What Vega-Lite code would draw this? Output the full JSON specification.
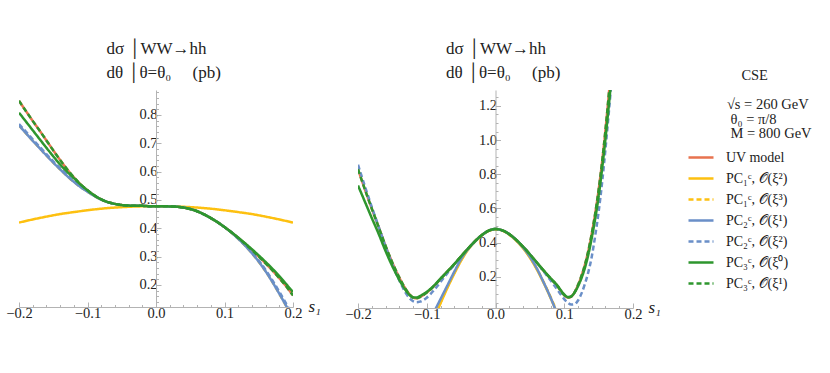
{
  "$schema": "https://vega.github.io/schema/vega-lite/v6.json",
  "background": "white",
  "padding": {"left": 5, "top": 39, "right": 5, "bottom": 5},
  "bounds": "flush",
  "spacing": 65,
  "config": {
    "view": {"stroke": null},
    "font": "Liberation Serif",
    "axis": {
      "labelFont": "Liberation Serif", "labelFontSize": 14.5, "labelColor": "#222222",
      "titleFont": "Liberation Serif", "titleFontWeight": "normal", "titleColor": "#222222",
      "domainColor": "#b3b3b3", "tickColor": "#b3b3b3", "tickSize": -5,
      "grid": false, "labelFlush": false, "labelOverlap": false, "format": ".1f"
    },
    "legend": {
      "orient": "none", "legendX": 668, "legendY": -21,
      "titleFont": "Liberation Serif", "titleFontSize": 14.5, "titleFontWeight": "normal", "titleColor": "#222222",
      "titleLineHeight": 14.5, "titlePadding": 2, "titleAlign": "left",
      "labelFont": "Liberation Serif", "labelFontSize": 14, "labelColor": "#222222", "labelLimit": 300, "labelOffset": 11,
      "symbolType": "stroke", "symbolSize": 625, "symbolStrokeWidth": 2.5, "rowPadding": -0.3, "padding": 0
    }
  },
  "datasets": {
    "L": [
      {"k":"a","s":-0.2,"v":0.85},{"k":"a","s":-0.19,"v":0.814},{"k":"a","s":-0.18,"v":0.779},{"k":"a","s":-0.17,"v":0.745},{"k":"a","s":-0.16,"v":0.71},{"k":"a","s":-0.15,"v":0.675},{"k":"a","s":-0.14,"v":0.641},{"k":"a","s":-0.13,"v":0.609},{"k":"a","s":-0.12,"v":0.58},{"k":"a","s":-0.11,"v":0.555},{"k":"a","s":-0.1,"v":0.534},{"k":"a","s":-0.09,"v":0.516},{"k":"a","s":-0.08,"v":0.502},{"k":"a","s":-0.07,"v":0.492},{"k":"a","s":-0.06,"v":0.486},{"k":"a","s":-0.05,"v":0.482},{"k":"a","s":-0.04,"v":0.48},{"k":"a","s":-0.03,"v":0.479},{"k":"a","s":-0.02,"v":0.479},{"k":"a","s":-0.01,"v":0.478},{"k":"a","s":0,"v":0.478},{"k":"a","s":0.01,"v":0.478},{"k":"a","s":0.02,"v":0.477},{"k":"a","s":0.03,"v":0.476},{"k":"a","s":0.04,"v":0.473},{"k":"a","s":0.05,"v":0.468},{"k":"a","s":0.06,"v":0.46},{"k":"a","s":0.07,"v":0.449},{"k":"a","s":0.08,"v":0.436},{"k":"a","s":0.09,"v":0.421},{"k":"a","s":0.1,"v":0.404},{"k":"a","s":0.11,"v":0.386},{"k":"a","s":0.12,"v":0.366},{"k":"a","s":0.13,"v":0.345},{"k":"a","s":0.14,"v":0.323},{"k":"a","s":0.15,"v":0.3},{"k":"a","s":0.16,"v":0.276},{"k":"a","s":0.17,"v":0.251},{"k":"a","s":0.18,"v":0.224},{"k":"a","s":0.19,"v":0.195},{"k":"a","s":0.2,"v":0.163},

      {"k":"b","s":-0.2,"v":0.42},{"k":"b","s":-0.18,"v":0.431},{"k":"b","s":-0.16,"v":0.441},{"k":"b","s":-0.14,"v":0.45},{"k":"b","s":-0.12,"v":0.457},{"k":"b","s":-0.1,"v":0.4635},{"k":"b","s":-0.08,"v":0.469},{"k":"b","s":-0.06,"v":0.473},{"k":"b","s":-0.04,"v":0.4757},{"k":"b","s":-0.02,"v":0.4774},{"k":"b","s":0,"v":0.478},{"k":"b","s":0.02,"v":0.4774},{"k":"b","s":0.04,"v":0.4757},{"k":"b","s":0.06,"v":0.473},{"k":"b","s":0.08,"v":0.469},{"k":"b","s":0.1,"v":0.4635},{"k":"b","s":0.12,"v":0.457},{"k":"b","s":0.14,"v":0.45},{"k":"b","s":0.16,"v":0.441},{"k":"b","s":0.18,"v":0.431},{"k":"b","s":0.2,"v":0.42},

      {"k":"c","s":-0.2,"v":0.763},{"k":"c","s":-0.19,"v":0.736},{"k":"c","s":-0.18,"v":0.709},{"k":"c","s":-0.17,"v":0.683},{"k":"c","s":-0.16,"v":0.657},{"k":"c","s":-0.15,"v":0.632},{"k":"c","s":-0.14,"v":0.608},{"k":"c","s":-0.13,"v":0.585},{"k":"c","s":-0.12,"v":0.564},{"k":"c","s":-0.11,"v":0.545},{"k":"c","s":-0.1,"v":0.529},{"k":"c","s":-0.09,"v":0.514},{"k":"c","s":-0.08,"v":0.501},{"k":"c","s":-0.07,"v":0.492},{"k":"c","s":-0.06,"v":0.486},{"k":"c","s":-0.05,"v":0.482},{"k":"c","s":-0.04,"v":0.48},{"k":"c","s":-0.03,"v":0.479},{"k":"c","s":-0.02,"v":0.479},{"k":"c","s":-0.01,"v":0.478},{"k":"c","s":0,"v":0.478},{"k":"c","s":0.01,"v":0.478},{"k":"c","s":0.02,"v":0.477},{"k":"c","s":0.03,"v":0.476},{"k":"c","s":0.04,"v":0.473},{"k":"c","s":0.05,"v":0.468},{"k":"c","s":0.06,"v":0.46},{"k":"c","s":0.07,"v":0.449},{"k":"c","s":0.08,"v":0.436},{"k":"c","s":0.09,"v":0.421},{"k":"c","s":0.1,"v":0.404},{"k":"c","s":0.11,"v":0.385},{"k":"c","s":0.12,"v":0.363},{"k":"c","s":0.13,"v":0.339},{"k":"c","s":0.14,"v":0.312},{"k":"c","s":0.15,"v":0.282},{"k":"c","s":0.16,"v":0.248},{"k":"c","s":0.17,"v":0.21},{"k":"c","s":0.18,"v":0.169},{"k":"c","s":0.19,"v":0.126},{"k":"c","s":0.2,"v":0.081},

      {"k":"d","s":-0.2,"v":0.763},{"k":"d","s":-0.19,"v":0.736},{"k":"d","s":-0.18,"v":0.709},{"k":"d","s":-0.17,"v":0.683},{"k":"d","s":-0.16,"v":0.657},{"k":"d","s":-0.15,"v":0.632},{"k":"d","s":-0.14,"v":0.608},{"k":"d","s":-0.13,"v":0.585},{"k":"d","s":-0.12,"v":0.564},{"k":"d","s":-0.11,"v":0.545},{"k":"d","s":-0.1,"v":0.529},{"k":"d","s":-0.09,"v":0.514},{"k":"d","s":-0.08,"v":0.501},{"k":"d","s":-0.07,"v":0.492},{"k":"d","s":-0.06,"v":0.486},{"k":"d","s":-0.05,"v":0.482},{"k":"d","s":-0.04,"v":0.48},{"k":"d","s":-0.03,"v":0.479},{"k":"d","s":-0.02,"v":0.479},{"k":"d","s":-0.01,"v":0.478},{"k":"d","s":0,"v":0.478},{"k":"d","s":0.01,"v":0.478},{"k":"d","s":0.02,"v":0.477},{"k":"d","s":0.03,"v":0.476},{"k":"d","s":0.04,"v":0.473},{"k":"d","s":0.05,"v":0.468},{"k":"d","s":0.06,"v":0.46},{"k":"d","s":0.07,"v":0.449},{"k":"d","s":0.08,"v":0.436},{"k":"d","s":0.09,"v":0.421},{"k":"d","s":0.1,"v":0.404},{"k":"d","s":0.11,"v":0.385},{"k":"d","s":0.12,"v":0.363},{"k":"d","s":0.13,"v":0.339},{"k":"d","s":0.14,"v":0.312},{"k":"d","s":0.15,"v":0.282},{"k":"d","s":0.16,"v":0.248},{"k":"d","s":0.17,"v":0.21},{"k":"d","s":0.18,"v":0.169},{"k":"d","s":0.19,"v":0.126},{"k":"d","s":0.2,"v":0.081},

      {"k":"e","s":-0.2,"v":0.768},{"k":"e","s":-0.19,"v":0.741},{"k":"e","s":-0.18,"v":0.714},{"k":"e","s":-0.17,"v":0.688},{"k":"e","s":-0.16,"v":0.662},{"k":"e","s":-0.15,"v":0.636},{"k":"e","s":-0.14,"v":0.612},{"k":"e","s":-0.13,"v":0.589},{"k":"e","s":-0.12,"v":0.567},{"k":"e","s":-0.11,"v":0.548},{"k":"e","s":-0.1,"v":0.531},{"k":"e","s":-0.09,"v":0.515},{"k":"e","s":-0.08,"v":0.502},{"k":"e","s":-0.07,"v":0.492},{"k":"e","s":-0.06,"v":0.486},{"k":"e","s":-0.05,"v":0.482},{"k":"e","s":-0.04,"v":0.48},{"k":"e","s":-0.03,"v":0.479},{"k":"e","s":-0.02,"v":0.479},{"k":"e","s":-0.01,"v":0.478},{"k":"e","s":0,"v":0.478},{"k":"e","s":0.01,"v":0.478},{"k":"e","s":0.02,"v":0.477},{"k":"e","s":0.03,"v":0.476},{"k":"e","s":0.04,"v":0.473},{"k":"e","s":0.05,"v":0.468},{"k":"e","s":0.06,"v":0.46},{"k":"e","s":0.07,"v":0.449},{"k":"e","s":0.08,"v":0.436},{"k":"e","s":0.09,"v":0.421},{"k":"e","s":0.1,"v":0.404},{"k":"e","s":0.11,"v":0.386},{"k":"e","s":0.12,"v":0.364},{"k":"e","s":0.13,"v":0.341},{"k":"e","s":0.14,"v":0.315},{"k":"e","s":0.15,"v":0.286},{"k":"e","s":0.16,"v":0.253},{"k":"e","s":0.17,"v":0.216},{"k":"e","s":0.18,"v":0.176},{"k":"e","s":0.19,"v":0.134},{"k":"e","s":0.2,"v":0.09},

      {"k":"f","s":-0.2,"v":0.808},{"k":"f","s":-0.19,"v":0.777},{"k":"f","s":-0.18,"v":0.746},{"k":"f","s":-0.17,"v":0.715},{"k":"f","s":-0.16,"v":0.684},{"k":"f","s":-0.15,"v":0.654},{"k":"f","s":-0.14,"v":0.625},{"k":"f","s":-0.13,"v":0.6},{"k":"f","s":-0.12,"v":0.577},{"k":"f","s":-0.11,"v":0.554},{"k":"f","s":-0.1,"v":0.534},{"k":"f","s":-0.09,"v":0.516},{"k":"f","s":-0.08,"v":0.502},{"k":"f","s":-0.07,"v":0.492},{"k":"f","s":-0.06,"v":0.486},{"k":"f","s":-0.05,"v":0.482},{"k":"f","s":-0.04,"v":0.48},{"k":"f","s":-0.03,"v":0.479},{"k":"f","s":-0.02,"v":0.479},{"k":"f","s":-0.01,"v":0.478},{"k":"f","s":0,"v":0.478},{"k":"f","s":0.01,"v":0.478},{"k":"f","s":0.02,"v":0.477},{"k":"f","s":0.03,"v":0.476},{"k":"f","s":0.04,"v":0.473},{"k":"f","s":0.05,"v":0.468},{"k":"f","s":0.06,"v":0.46},{"k":"f","s":0.07,"v":0.449},{"k":"f","s":0.08,"v":0.436},{"k":"f","s":0.09,"v":0.421},{"k":"f","s":0.1,"v":0.404},{"k":"f","s":0.11,"v":0.386},{"k":"f","s":0.12,"v":0.367},{"k":"f","s":0.13,"v":0.347},{"k":"f","s":0.14,"v":0.326},{"k":"f","s":0.15,"v":0.304},{"k":"f","s":0.16,"v":0.281},{"k":"f","s":0.17,"v":0.257},{"k":"f","s":0.18,"v":0.231},{"k":"f","s":0.19,"v":0.203},{"k":"f","s":0.2,"v":0.175},

      {"k":"g","s":-0.2,"v":0.85},{"k":"g","s":-0.19,"v":0.814},{"k":"g","s":-0.18,"v":0.779},{"k":"g","s":-0.17,"v":0.745},{"k":"g","s":-0.16,"v":0.71},{"k":"g","s":-0.15,"v":0.675},{"k":"g","s":-0.14,"v":0.641},{"k":"g","s":-0.13,"v":0.609},{"k":"g","s":-0.12,"v":0.58},{"k":"g","s":-0.11,"v":0.555},{"k":"g","s":-0.1,"v":0.534},{"k":"g","s":-0.09,"v":0.516},{"k":"g","s":-0.08,"v":0.502},{"k":"g","s":-0.07,"v":0.492},{"k":"g","s":-0.06,"v":0.486},{"k":"g","s":-0.05,"v":0.482},{"k":"g","s":-0.04,"v":0.48},{"k":"g","s":-0.03,"v":0.479},{"k":"g","s":-0.02,"v":0.479},{"k":"g","s":-0.01,"v":0.478},{"k":"g","s":0,"v":0.478},{"k":"g","s":0.01,"v":0.478},{"k":"g","s":0.02,"v":0.477},{"k":"g","s":0.03,"v":0.476},{"k":"g","s":0.04,"v":0.473},{"k":"g","s":0.05,"v":0.468},{"k":"g","s":0.06,"v":0.46},{"k":"g","s":0.07,"v":0.449},{"k":"g","s":0.08,"v":0.436},{"k":"g","s":0.09,"v":0.421},{"k":"g","s":0.1,"v":0.404},{"k":"g","s":0.11,"v":0.386},{"k":"g","s":0.12,"v":0.366},{"k":"g","s":0.13,"v":0.345},{"k":"g","s":0.14,"v":0.323},{"k":"g","s":0.15,"v":0.3},{"k":"g","s":0.16,"v":0.276},{"k":"g","s":0.17,"v":0.251},{"k":"g","s":0.18,"v":0.224},{"k":"g","s":0.19,"v":0.195},{"k":"g","s":0.2,"v":0.163}
    ],
    "R": [
      {"k":"a","s":-0.2,"v":0.83},{"k":"a","s":-0.19,"v":0.712},{"k":"a","s":-0.18,"v":0.6},{"k":"a","s":-0.17,"v":0.492},{"k":"a","s":-0.16,"v":0.382},{"k":"a","s":-0.15,"v":0.283},{"k":"a","s":-0.14,"v":0.197},{"k":"a","s":-0.13,"v":0.125},{"k":"a","s":-0.125,"v":0.098},{"k":"a","s":-0.12,"v":0.08},{"k":"a","s":-0.115,"v":0.075},{"k":"a","s":-0.11,"v":0.082},{"k":"a","s":-0.1,"v":0.108},{"k":"a","s":-0.09,"v":0.144},{"k":"a","s":-0.08,"v":0.188},{"k":"a","s":-0.07,"v":0.231},{"k":"a","s":-0.06,"v":0.274},{"k":"a","s":-0.05,"v":0.32},{"k":"a","s":-0.04,"v":0.365},{"k":"a","s":-0.03,"v":0.408},{"k":"a","s":-0.02,"v":0.444},{"k":"a","s":-0.01,"v":0.47},{"k":"a","s":0,"v":0.48},{"k":"a","s":0.01,"v":0.472},{"k":"a","s":0.02,"v":0.45},{"k":"a","s":0.03,"v":0.417},{"k":"a","s":0.04,"v":0.377},{"k":"a","s":0.05,"v":0.332},{"k":"a","s":0.06,"v":0.284},{"k":"a","s":0.07,"v":0.236},{"k":"a","s":0.08,"v":0.19},{"k":"a","s":0.09,"v":0.147},{"k":"a","s":0.095,"v":0.118},{"k":"a","s":0.1,"v":0.093},{"k":"a","s":0.105,"v":0.079},{"k":"a","s":0.11,"v":0.084},{"k":"a","s":0.115,"v":0.11},{"k":"a","s":0.12,"v":0.152},{"k":"a","s":0.125,"v":0.205},{"k":"a","s":0.13,"v":0.27},{"k":"a","s":0.135,"v":0.352},{"k":"a","s":0.14,"v":0.452},{"k":"a","s":0.145,"v":0.57},{"k":"a","s":0.15,"v":0.708},{"k":"a","s":0.155,"v":0.87},{"k":"a","s":0.16,"v":1.06},{"k":"a","s":0.165,"v":1.275},{"k":"a","s":0.17,"v":1.5},

      {"k":"b","s":-0.09,"v":-0.05},{"k":"b","s":-0.08,"v":0.045},{"k":"b","s":-0.07,"v":0.135},{"k":"b","s":-0.06,"v":0.218},{"k":"b","s":-0.05,"v":0.295},{"k":"b","s":-0.04,"v":0.358},{"k":"b","s":-0.03,"v":0.405},{"k":"b","s":-0.02,"v":0.442},{"k":"b","s":-0.01,"v":0.469},{"k":"b","s":0,"v":0.479},{"k":"b","s":0.01,"v":0.471},{"k":"b","s":0.02,"v":0.447},{"k":"b","s":0.03,"v":0.412},{"k":"b","s":0.04,"v":0.368},{"k":"b","s":0.05,"v":0.312},{"k":"b","s":0.06,"v":0.244},{"k":"b","s":0.07,"v":0.165},{"k":"b","s":0.08,"v":0.078},{"k":"b","s":0.09,"v":-0.015},

      {"k":"c","s":-0.09,"v":-0.045},{"k":"c","s":-0.08,"v":0.05},{"k":"c","s":-0.07,"v":0.14},{"k":"c","s":-0.06,"v":0.223},{"k":"c","s":-0.05,"v":0.3},{"k":"c","s":-0.04,"v":0.362},{"k":"c","s":-0.03,"v":0.407},{"k":"c","s":-0.02,"v":0.443},{"k":"c","s":-0.01,"v":0.469},{"k":"c","s":0,"v":0.479},{"k":"c","s":0.01,"v":0.471},{"k":"c","s":0.02,"v":0.448},{"k":"c","s":0.03,"v":0.414},{"k":"c","s":0.04,"v":0.371},{"k":"c","s":0.05,"v":0.316},{"k":"c","s":0.06,"v":0.249},{"k":"c","s":0.07,"v":0.17},{"k":"c","s":0.08,"v":0.083},{"k":"c","s":0.09,"v":-0.01},

      {"k":"d","s":-0.09,"v":-0.01},{"k":"d","s":-0.085,"v":0.03},{"k":"d","s":-0.08,"v":0.07},{"k":"d","s":-0.07,"v":0.15},{"k":"d","s":-0.06,"v":0.23},{"k":"d","s":-0.05,"v":0.305},{"k":"d","s":-0.04,"v":0.362},{"k":"d","s":-0.03,"v":0.406},{"k":"d","s":-0.02,"v":0.443},{"k":"d","s":-0.01,"v":0.47},{"k":"d","s":0,"v":0.48},{"k":"d","s":0.01,"v":0.472},{"k":"d","s":0.02,"v":0.449},{"k":"d","s":0.03,"v":0.415},{"k":"d","s":0.04,"v":0.372},{"k":"d","s":0.05,"v":0.318},{"k":"d","s":0.06,"v":0.25},{"k":"d","s":0.07,"v":0.168},{"k":"d","s":0.08,"v":0.08},{"k":"d","s":0.09,"v":-0.02},

      {"k":"e","s":-0.2,"v":0.856},{"k":"e","s":-0.19,"v":0.73},{"k":"e","s":-0.18,"v":0.61},{"k":"e","s":-0.17,"v":0.494},{"k":"e","s":-0.16,"v":0.378},{"k":"e","s":-0.15,"v":0.272},{"k":"e","s":-0.14,"v":0.18},{"k":"e","s":-0.13,"v":0.102},{"k":"e","s":-0.125,"v":0.075},{"k":"e","s":-0.12,"v":0.058},{"k":"e","s":-0.115,"v":0.052},{"k":"e","s":-0.11,"v":0.055},{"k":"e","s":-0.1,"v":0.078},{"k":"e","s":-0.09,"v":0.12},{"k":"e","s":-0.08,"v":0.17},{"k":"e","s":-0.07,"v":0.222},{"k":"e","s":-0.06,"v":0.27},{"k":"e","s":-0.05,"v":0.318},{"k":"e","s":-0.04,"v":0.365},{"k":"e","s":-0.03,"v":0.408},{"k":"e","s":-0.02,"v":0.444},{"k":"e","s":-0.01,"v":0.47},{"k":"e","s":0,"v":0.48},{"k":"e","s":0.01,"v":0.472},{"k":"e","s":0.02,"v":0.45},{"k":"e","s":0.03,"v":0.417},{"k":"e","s":0.04,"v":0.377},{"k":"e","s":0.05,"v":0.332},{"k":"e","s":0.06,"v":0.282},{"k":"e","s":0.07,"v":0.232},{"k":"e","s":0.08,"v":0.18},{"k":"e","s":0.09,"v":0.125},{"k":"e","s":0.095,"v":0.097},{"k":"e","s":0.1,"v":0.07},{"k":"e","s":0.105,"v":0.05},{"k":"e","s":0.11,"v":0.038},{"k":"e","s":0.115,"v":0.04},{"k":"e","s":0.12,"v":0.062},{"k":"e","s":0.125,"v":0.102},{"k":"e","s":0.13,"v":0.158},{"k":"e","s":0.135,"v":0.228},{"k":"e","s":0.14,"v":0.318},{"k":"e","s":0.145,"v":0.44},{"k":"e","s":0.15,"v":0.58},{"k":"e","s":0.155,"v":0.75},{"k":"e","s":0.16,"v":0.95},{"k":"e","s":0.165,"v":1.17},{"k":"e","s":0.17,"v":1.4},

      {"k":"f","s":-0.2,"v":0.735},{"k":"f","s":-0.19,"v":0.64},{"k":"f","s":-0.18,"v":0.545},{"k":"f","s":-0.17,"v":0.452},{"k":"f","s":-0.16,"v":0.352},{"k":"f","s":-0.15,"v":0.262},{"k":"f","s":-0.14,"v":0.183},{"k":"f","s":-0.13,"v":0.118},{"k":"f","s":-0.125,"v":0.094},{"k":"f","s":-0.12,"v":0.08},{"k":"f","s":-0.115,"v":0.079},{"k":"f","s":-0.11,"v":0.088},{"k":"f","s":-0.1,"v":0.112},{"k":"f","s":-0.09,"v":0.147},{"k":"f","s":-0.08,"v":0.19},{"k":"f","s":-0.07,"v":0.232},{"k":"f","s":-0.06,"v":0.275},{"k":"f","s":-0.05,"v":0.32},{"k":"f","s":-0.04,"v":0.365},{"k":"f","s":-0.03,"v":0.408},{"k":"f","s":-0.02,"v":0.444},{"k":"f","s":-0.01,"v":0.47},{"k":"f","s":0,"v":0.48},{"k":"f","s":0.01,"v":0.472},{"k":"f","s":0.02,"v":0.45},{"k":"f","s":0.03,"v":0.417},{"k":"f","s":0.04,"v":0.377},{"k":"f","s":0.05,"v":0.332},{"k":"f","s":0.06,"v":0.285},{"k":"f","s":0.07,"v":0.238},{"k":"f","s":0.08,"v":0.193},{"k":"f","s":0.09,"v":0.15},{"k":"f","s":0.095,"v":0.122},{"k":"f","s":0.1,"v":0.097},{"k":"f","s":0.105,"v":0.082},{"k":"f","s":0.11,"v":0.086},{"k":"f","s":0.115,"v":0.108},{"k":"f","s":0.12,"v":0.145},{"k":"f","s":0.125,"v":0.192},{"k":"f","s":0.13,"v":0.252},{"k":"f","s":0.135,"v":0.33},{"k":"f","s":0.14,"v":0.428},{"k":"f","s":0.145,"v":0.54},{"k":"f","s":0.15,"v":0.67},{"k":"f","s":0.155,"v":0.83},{"k":"f","s":0.16,"v":1.01},{"k":"f","s":0.165,"v":1.21},{"k":"f","s":0.17,"v":1.42},

      {"k":"g","s":-0.2,"v":0.83},{"k":"g","s":-0.19,"v":0.712},{"k":"g","s":-0.18,"v":0.6},{"k":"g","s":-0.17,"v":0.492},{"k":"g","s":-0.16,"v":0.382},{"k":"g","s":-0.15,"v":0.283},{"k":"g","s":-0.14,"v":0.197},{"k":"g","s":-0.13,"v":0.125},{"k":"g","s":-0.125,"v":0.098},{"k":"g","s":-0.12,"v":0.08},{"k":"g","s":-0.115,"v":0.075},{"k":"g","s":-0.11,"v":0.082},{"k":"g","s":-0.1,"v":0.108},{"k":"g","s":-0.09,"v":0.144},{"k":"g","s":-0.08,"v":0.188},{"k":"g","s":-0.07,"v":0.231},{"k":"g","s":-0.06,"v":0.274},{"k":"g","s":-0.05,"v":0.32},{"k":"g","s":-0.04,"v":0.365},{"k":"g","s":-0.03,"v":0.408},{"k":"g","s":-0.02,"v":0.444},{"k":"g","s":-0.01,"v":0.47},{"k":"g","s":0,"v":0.48},{"k":"g","s":0.01,"v":0.472},{"k":"g","s":0.02,"v":0.45},{"k":"g","s":0.03,"v":0.417},{"k":"g","s":0.04,"v":0.377},{"k":"g","s":0.05,"v":0.332},{"k":"g","s":0.06,"v":0.284},{"k":"g","s":0.07,"v":0.236},{"k":"g","s":0.08,"v":0.19},{"k":"g","s":0.09,"v":0.147},{"k":"g","s":0.095,"v":0.118},{"k":"g","s":0.1,"v":0.093},{"k":"g","s":0.105,"v":0.079},{"k":"g","s":0.11,"v":0.084},{"k":"g","s":0.115,"v":0.11},{"k":"g","s":0.12,"v":0.152},{"k":"g","s":0.125,"v":0.205},{"k":"g","s":0.13,"v":0.27},{"k":"g","s":0.135,"v":0.352},{"k":"g","s":0.14,"v":0.452},{"k":"g","s":0.145,"v":0.57},{"k":"g","s":0.15,"v":0.708},{"k":"g","s":0.155,"v":0.87},{"k":"g","s":0.16,"v":1.06},{"k":"g","s":0.165,"v":1.275},{"k":"g","s":0.17,"v":1.5}
    ]
  },
  "hconcat": [
    {
      "width": 274, "height": 217,
      "data": {"name": "L"},
      "layer": [
        {
          "mark": {"type": "line", "strokeOpacity": 0},
          "encoding": {
            "x": {"field": "s", "type": "quantitative", "scale": {"domain": [-0.2, 0.2], "nice": false, "zero": false},
              "axis": {"orient": "bottom", "values": [-0.18,-0.16,-0.14,-0.12,-0.08,-0.06,-0.04,-0.02,0.02,0.04,0.06,0.08,0.12,0.14,0.16,0.18], "labels": false, "title": null, "domain": false, "tickSize": -2.5}},
            "y": {"field": "v", "type": "quantitative", "scale": {"domain": [0.122, 0.888], "nice": false, "zero": false},
              "axis": {"orient": "left", "offset": -137, "values": [0.14,0.16,0.18,0.22,0.24,0.26,0.28,0.32,0.34,0.36,0.38,0.42,0.44,0.46,0.48,0.52,0.54,0.56,0.58,0.62,0.64,0.66,0.68,0.72,0.74,0.76,0.78,0.82,0.84,0.86,0.88], "labels": false, "title": null, "domain": false, "tickSize": -2.5}}
          }
        },
        {
          "mark": {"type": "line", "strokeWidth": 2.5, "clip": true, "interpolate": "monotone"},
          "encoding": {
            "x": {"field": "s", "type": "quantitative", "scale": {"domain": [-0.2, 0.2], "nice": false, "zero": false},
              "axis": {"orient": "bottom", "values": [-0.2, -0.1, 0, 0.1, 0.2], "title": "s₁", "titleX": 289, "titleY": -1, "titleAlign": "left", "titleBaseline": "middle", "titleFontStyle": "italic", "titleFontSize": 17, "labelPadding": 4}},
            "y": {"field": "v", "type": "quantitative", "scale": {"domain": [0.122, 0.888], "nice": false, "zero": false},
              "axis": {"orient": "left", "values": [0.2, 0.3, 0.4, 0.5, 0.6, 0.7, 0.8], "offset": -137, "title": ["dσ │WW→hh", "dθ │θ=θ₀\u00a0\u00a0\u00a0\u00a0\u00a0(pb)"], "titleAngle": 0, "titleAlign": "left", "titleBaseline": "bottom", "titleX": -50, "titleY": -33, "titleFontSize": 17, "titleLineHeight": 24, "labelPadding": 4}},
            "color": {"field": "k", "type": "nominal",
              "scale": {"domain": ["a","b","c","d","e","f","g"], "range": ["#E8734F","#FDC010","#FDC010","#6A8FC8","#6A8FC8","#2E962E","#2E962E"]},
              "legend": {"title": ["\u200b\u00a0\u00a0\u00a0\u00a0\u00a0\u00a0\u00a0\u00a0\u00a0\u00a0\u00a0\u00a0\u00a0\u00a0\u00a0CSE", "\u200b\u00a0", "\u200b\u00a0\u00a0\u00a0\u00a0\u00a0\u00a0\u00a0\u00a0\u00a0\u00a0\u00a0√s = 260 GeV", "\u200b\u00a0\u00a0\u00a0\u00a0\u00a0\u00a0\u00a0\u00a0\u00a0\u00a0\u00a0\u00a0θ₀ = π/8", "\u200b\u00a0\u00a0\u00a0\u00a0\u00a0\u00a0\u00a0\u00a0\u00a0\u00a0\u00a0\u00a0M = 800 GeV"], "labelExpr": "{'a':'UV model','b':'PC₁ᶜ, 𝒪(ξ²)','c':'PC₁ᶜ, 𝒪(ξ³)','d':'PC₂ᶜ, 𝒪(ξ¹)','e':'PC₂ᶜ, 𝒪(ξ²)','f':'PC₃ᶜ, 𝒪(ξ⁰)','g':'PC₃ᶜ, 𝒪(ξ¹)'}[datum.value]"}},
            "strokeDash": {"field": "k", "type": "nominal",
              "scale": {"domain": ["a","b","c","d","e","f","g"], "range": [[1,0],[1,0],[5,3],[1,0],[5,3],[1,0],[5,3]]},
              "legend": {"title": ["\u200b\u00a0\u00a0\u00a0\u00a0\u00a0\u00a0\u00a0\u00a0\u00a0\u00a0\u00a0\u00a0\u00a0\u00a0\u00a0CSE", "\u200b\u00a0", "\u200b\u00a0\u00a0\u00a0\u00a0\u00a0\u00a0\u00a0\u00a0\u00a0\u00a0\u00a0√s = 260 GeV", "\u200b\u00a0\u00a0\u00a0\u00a0\u00a0\u00a0\u00a0\u00a0\u00a0\u00a0\u00a0\u00a0θ₀ = π/8", "\u200b\u00a0\u00a0\u00a0\u00a0\u00a0\u00a0\u00a0\u00a0\u00a0\u00a0\u00a0\u00a0M = 800 GeV"], "labelExpr": "{'a':'UV model','b':'PC₁ᶜ, 𝒪(ξ²)','c':'PC₁ᶜ, 𝒪(ξ³)','d':'PC₂ᶜ, 𝒪(ξ¹)','e':'PC₂ᶜ, 𝒪(ξ²)','f':'PC₃ᶜ, 𝒪(ξ⁰)','g':'PC₃ᶜ, 𝒪(ξ¹)'}[datum.value]"}}
          }
        }
      ],
      "resolve": {"axis": {"x": "independent", "y": "independent"}}
    },
    {
      "width": 275, "height": 218,
      "data": {"name": "R"},
      "layer": [
        {
          "mark": {"type": "line", "strokeOpacity": 0},
          "encoding": {
            "x": {"field": "s", "type": "quantitative", "scale": {"domain": [-0.2, 0.2], "nice": false, "zero": false},
              "axis": {"orient": "bottom", "values": [-0.18,-0.16,-0.14,-0.12,-0.08,-0.06,-0.04,-0.02,0.02,0.04,0.06,0.08,0.12,0.14,0.16,0.18], "labels": false, "title": null, "domain": false, "tickSize": -2.5}},
            "y": {"field": "v", "type": "quantitative", "scale": {"domain": [0.018, 1.293], "nice": false, "zero": false},
              "axis": {"orient": "left", "offset": -137.5, "values": [0.05,0.1,0.15,0.25,0.3,0.35,0.45,0.5,0.55,0.65,0.7,0.75,0.85,0.9,0.95,1.05,1.1,1.15,1.25], "labels": false, "title": null, "domain": false, "tickSize": -2.5}}
          }
        },
        {
          "mark": {"type": "line", "strokeWidth": 2.5, "clip": true, "interpolate": "monotone"},
          "encoding": {
            "x": {"field": "s", "type": "quantitative", "scale": {"domain": [-0.2, 0.2], "nice": false, "zero": false},
              "axis": {"orient": "bottom", "values": [-0.2, -0.1, 0, 0.1, 0.2], "title": "s₁", "titleX": 290, "titleY": -1, "titleAlign": "left", "titleBaseline": "middle", "titleFontStyle": "italic", "titleFontSize": 17, "labelPadding": 4}},
            "y": {"field": "v", "type": "quantitative", "scale": {"domain": [0.018, 1.293], "nice": false, "zero": false},
              "axis": {"orient": "left", "values": [0.2, 0.4, 0.6, 0.8, 1.0, 1.2], "offset": -137.5, "title": ["dσ │WW→hh", "dθ │θ=θ₀\u00a0\u00a0\u00a0\u00a0\u00a0(pb)"], "titleAngle": 0, "titleAlign": "left", "titleBaseline": "bottom", "titleX": -50, "titleY": -33, "titleFontSize": 17, "titleLineHeight": 24, "labelPadding": 4}},
            "color": {"field": "k", "type": "nominal",
              "scale": {"domain": ["a","b","c","d","e","f","g"], "range": ["#E8734F","#FDC010","#FDC010","#6A8FC8","#6A8FC8","#2E962E","#2E962E"]},
              "legend": {"title": ["\u200b\u00a0\u00a0\u00a0\u00a0\u00a0\u00a0\u00a0\u00a0\u00a0\u00a0\u00a0\u00a0\u00a0\u00a0\u00a0CSE", "\u200b\u00a0", "\u200b\u00a0\u00a0\u00a0\u00a0\u00a0\u00a0\u00a0\u00a0\u00a0\u00a0\u00a0√s = 260 GeV", "\u200b\u00a0\u00a0\u00a0\u00a0\u00a0\u00a0\u00a0\u00a0\u00a0\u00a0\u00a0\u00a0θ₀ = π/8", "\u200b\u00a0\u00a0\u00a0\u00a0\u00a0\u00a0\u00a0\u00a0\u00a0\u00a0\u00a0\u00a0M = 800 GeV"], "labelExpr": "{'a':'UV model','b':'PC₁ᶜ, 𝒪(ξ²)','c':'PC₁ᶜ, 𝒪(ξ³)','d':'PC₂ᶜ, 𝒪(ξ¹)','e':'PC₂ᶜ, 𝒪(ξ²)','f':'PC₃ᶜ, 𝒪(ξ⁰)','g':'PC₃ᶜ, 𝒪(ξ¹)'}[datum.value]"}},
            "strokeDash": {"field": "k", "type": "nominal",
              "scale": {"domain": ["a","b","c","d","e","f","g"], "range": [[1,0],[1,0],[5,3],[1,0],[5,3],[1,0],[5,3]]},
              "legend": {"title": ["\u200b\u00a0\u00a0\u00a0\u00a0\u00a0\u00a0\u00a0\u00a0\u00a0\u00a0\u00a0\u00a0\u00a0\u00a0\u00a0CSE", "\u200b\u00a0", "\u200b\u00a0\u00a0\u00a0\u00a0\u00a0\u00a0\u00a0\u00a0\u00a0\u00a0\u00a0√s = 260 GeV", "\u200b\u00a0\u00a0\u00a0\u00a0\u00a0\u00a0\u00a0\u00a0\u00a0\u00a0\u00a0\u00a0θ₀ = π/8", "\u200b\u00a0\u00a0\u00a0\u00a0\u00a0\u00a0\u00a0\u00a0\u00a0\u00a0\u00a0\u00a0M = 800 GeV"], "labelExpr": "{'a':'UV model','b':'PC₁ᶜ, 𝒪(ξ²)','c':'PC₁ᶜ, 𝒪(ξ³)','d':'PC₂ᶜ, 𝒪(ξ¹)','e':'PC₂ᶜ, 𝒪(ξ²)','f':'PC₃ᶜ, 𝒪(ξ⁰)','g':'PC₃ᶜ, 𝒪(ξ¹)'}[datum.value]"}}
          }
        }
      ],
      "resolve": {"axis": {"x": "independent", "y": "independent"}}
    }
  ],
  "resolve": {"scale": {"color": "shared", "strokeDash": "shared"}}
}
